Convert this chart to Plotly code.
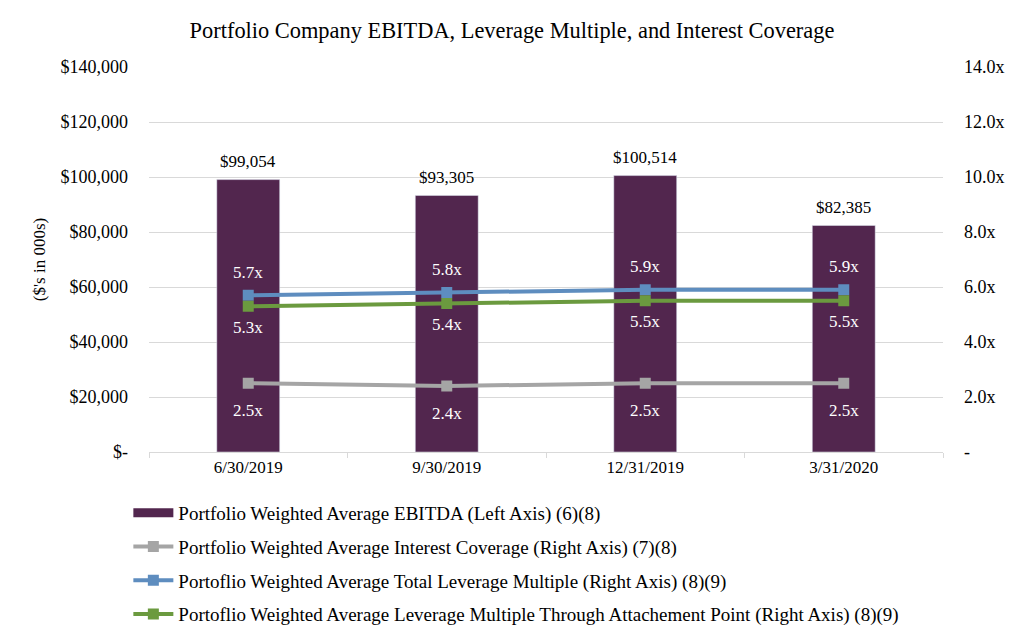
import plotly.graph_objects as go

categories = ["6/30/2019", "9/30/2019", "12/31/2019", "3/31/2020"]
ebitda = [99054, 93305, 100514, 82385]
ebitda_labels = ["$99,054", "$93,305", "$100,514", "$82,385"]
interest_coverage = [2.5, 2.4, 2.5, 2.5]
total_leverage = [5.7, 5.8, 5.9, 5.9]
attach_leverage = [5.3, 5.4, 5.5, 5.5]

left_tickvals = [0, 20000, 40000, 60000, 80000, 100000, 120000, 140000]
left_ticktext = ["$-", "$20,000", "$40,000", "$60,000", "$80,000", "$100,000", "$120,000", "$140,000"]
right_tickvals = [0, 2, 4, 6, 8, 10, 12, 14]
right_ticktext = ["-", "2.0x", "4.0x", "6.0x", "8.0x", "10.0x", "12.0x", "14.0x"]

names = [
    "Portfolio Weighted Average EBITDA (Left Axis) (6)(8)",
    "Portfolio Weighted Average Interest Coverage (Right Axis) (7)(8)",
    "Portoflio Weighted Average Total Leverage Multiple (Right Axis) (8)(9)",
    "Portoflio Weighted Average Leverage Multiple Through Attachement Point (Right Axis) (8)(9)",
]

PURPLE = "#52264E"
GRAY = "#A5A5A5"
BLUE = "#5E8DBF"
GREEN = "#6B9A3F"
FONT = "Liberation Serif, DejaVu Serif, serif"

fig = go.Figure()
fig.add_trace(go.Bar(x=categories, y=ebitda, marker_color=PURPLE, width=0.317,
                     showlegend=False, yaxis="y"))
# legend entry for bars (wide swatch)
fig.add_trace(go.Scatter(x=[None], y=[None], mode="lines", line=dict(color=PURPLE, width=9),
                         name=names[0], legendgroup="a", yaxis="y"))
for vals, col, nm, grp in [(interest_coverage, GRAY, names[1], "b"),
                           (total_leverage, BLUE, names[2], "c"),
                           (attach_leverage, GREEN, names[3], "d")]:
    fig.add_trace(go.Scatter(x=categories, y=vals, yaxis="y2", mode="lines+markers",
                             line=dict(color=col, width=4),
                             marker=dict(symbol="square", size=11, color=col),
                             name=nm, legendgroup=grp))

ann = []
for c, v, t in zip(categories, ebitda, ebitda_labels):
    ann.append(dict(x=c, y=v, yref="y", text=t, showarrow=False, yshift=18,
                    font=dict(size=17, color="black", family=FONT)))
for vals, shift in [(interest_coverage, -27), (total_leverage, 23), (attach_leverage, -21)]:
    for c, v in zip(categories, vals):
        ann.append(dict(x=c, y=v, yref="y2", text=f"{v:.1f}x", showarrow=False, yshift=shift,
                        font=dict(size=17, color="white", family=FONT)))

fig.update_layout(
    width=1024, height=639,
    margin=dict(l=149, r=81, t=67, b=187),
    paper_bgcolor="white", plot_bgcolor="white",
    font=dict(family=FONT, size=17, color="black"),
    title=dict(text="Portfolio Company EBITDA, Leverage Multiple, and Interest Coverage",
               x=0.5, xanchor="center", y=0.953, yanchor="middle",
               font=dict(size=22.4, family=FONT, color="black")),
    xaxis=dict(type="category", showgrid=False, showline=True, linecolor="#D9D9D9", linewidth=1,
               ticks="outside", tickson="boundaries", ticklen=5, tickcolor="#D9D9D9",
               tickfont=dict(size=17, family=FONT)),
    yaxis=dict(range=[0, 140000], tickvals=left_tickvals, ticktext=left_ticktext,
               showgrid=True, gridcolor="#D9D9D9", gridwidth=1, zeroline=False,
               ticks="", ticklabelstandoff=20, tickfont=dict(size=18, family=FONT),
               title=dict(text="($'s in 000s)", font=dict(size=17, family=FONT), standoff=10)),
    yaxis2=dict(range=[0, 14], tickvals=right_tickvals, ticktext=right_ticktext,
                overlaying="y", side="right", showgrid=False, zeroline=False,
                ticks="", ticklabelstandoff=20, tickfont=dict(size=18, family=FONT)),
    legend=dict(x=-0.026, xanchor="left", yref="container", y=1 - 494 / 639, yanchor="top",
                orientation="v",
                font=dict(size=19, family=FONT), tracegroupgap=6, itemwidth=40,
                bgcolor="rgba(0,0,0,0)"),
    annotations=ann,
)

fig.write_html("out.html")
